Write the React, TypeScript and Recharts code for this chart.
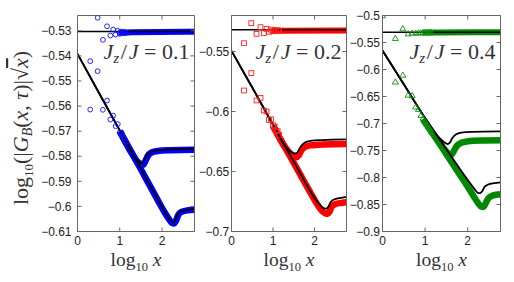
import React from 'react';
import { ComposedChart, Line, Scatter, XAxis, YAxis } from 'recharts';

// ---------- shared ----------
const xDomain: [number, number] = [0, 2.77];
const xTicks = [0, 1, 2];
// sparse marker positions: log10 x for x = 2..14
const markX = [0.301, 0.477, 0.602, 0.699, 0.778, 0.845, 0.903, 0.954, 1.0, 1.041, 1.079, 1.114, 1.146];
const fullX = [0, 2.77];

// ---------- panel 1 (Jz/J = 0.1, blue circles) ----------
const p1Label = '0.1';
const p1Domain: [number, number] = [-0.61, -0.5239];
const p1Ticks = [-0.61, -0.6, -0.59, -0.58, -0.57, -0.56, -0.55, -0.54, -0.53];
const p1ConstY = [-0.5303, -0.5303];
const p1UpperMarks = [-0.5421, -0.5248, -0.5336, -0.5282, -0.5319, -0.5295, -0.5315, -0.53, -0.5312, -0.5303, -0.531, -0.5304, -0.5309];
const p1LowerMarks = [-0.5614, -0.5461, -0.5615, -0.5578, -0.5654, -0.5638, -0.568, -0.5672, -0.5705, -0.5706, -0.5725, -0.573, -0.5742];
const p1AX = [0, 0.5, 1.0, 1.3, 1.42, 1.48, 1.53, 1.58, 1.64, 1.72, 1.85, 2.1, 2.5, 2.77];
const p1AY = [-0.5392, -0.5545, -0.5697, -0.5789, -0.5818, -0.5826, -0.5828, -0.5815, -0.5797, -0.5784, -0.5777, -0.5773, -0.5771, -0.577];
const p1BX = [0, 0.5, 1.0, 1.5, 1.9, 2.05, 2.15, 2.22, 2.27, 2.32, 2.37, 2.45, 2.6, 2.77];
const p1BY = [-0.5392, -0.5545, -0.5697, -0.585, -0.5972, -0.6017, -0.6043, -0.6058, -0.6063, -0.6052, -0.6032, -0.602, -0.6014, -0.601];
const p1BandUX = [0.97, 1.3, 2.77];
const p1BandUY = [-0.5308, -0.5306, -0.5304];
const p1BandAX = [1.0, 1.3, 1.42, 1.5, 1.55, 1.6, 1.66, 1.75, 1.9, 2.2, 2.77];
const p1BandAY = [-0.57, -0.5792, -0.5822, -0.5831, -0.5834, -0.5822, -0.58, -0.5785, -0.5779, -0.5776, -0.5774];
const p1BandBX = [1.0, 1.5, 1.9, 2.05, 2.15, 2.22, 2.28, 2.33, 2.38, 2.46, 2.6, 2.77];
const p1BandBY = [-0.57, -0.5852, -0.5975, -0.602, -0.6047, -0.6063, -0.6068, -0.6058, -0.6036, -0.6022, -0.6016, -0.6013];

// ---------- panel 2 (Jz/J = 0.2, red squares) ----------
const p2Label = '0.2';
const p2Domain: [number, number] = [-0.7, -0.52];
const p2Ticks = [-0.7, -0.65, -0.6, -0.55];
const p2ConstY = [-0.5319, -0.5319];
const p2UpperMarks = [-0.5431, -0.5264, -0.5353, -0.5297, -0.5347, -0.5311, -0.5335, -0.5318, -0.5331, -0.5321, -0.5329, -0.5323, -0.5328];
const p2LowerMarks = [-0.5825, -0.568, -0.5908, -0.5886, -0.5992, -0.6, -0.607, -0.6065, -0.6115, -0.6125, -0.616, -0.6165, -0.6195];
const p2AX = [0, 0.5, 1.0, 1.3, 1.4, 1.48, 1.54, 1.6, 1.66, 1.76, 1.9, 2.2, 2.77];
const p2AY = [-0.5495, -0.58, -0.611, -0.629, -0.6328, -0.6345, -0.635, -0.6335, -0.6295, -0.626, -0.6245, -0.6238, -0.6233];
const p2BX = [0, 0.5, 1.0, 1.5, 1.9, 2.05, 2.15, 2.22, 2.28, 2.33, 2.39, 2.47, 2.6, 2.77];
const p2BY = [-0.5495, -0.58, -0.611, -0.6418, -0.6664, -0.6745, -0.6785, -0.6805, -0.681, -0.6795, -0.6755, -0.6733, -0.6722, -0.6712];
const p2BandUX = [0.97, 2.77];
const p2BandUY = [-0.5328, -0.5324];
const p2BandAX = [1.0, 1.3, 1.42, 1.5, 1.56, 1.62, 1.68, 1.76, 1.9, 2.2, 2.77];
const p2BandAY = [-0.612, -0.6302, -0.6352, -0.6372, -0.6382, -0.6365, -0.6325, -0.6298, -0.6282, -0.6274, -0.627];
const p2BandBX = [1.0, 1.5, 1.9, 2.05, 2.15, 2.24, 2.31, 2.36, 2.42, 2.5, 2.65, 2.77];
const p2BandBY = [-0.612, -0.6428, -0.6675, -0.6765, -0.6815, -0.6845, -0.6855, -0.6835, -0.679, -0.6772, -0.6762, -0.6757];

// ---------- panel 3 (Jz/J = 0.4, green triangles) ----------
const p3Label = '0.4';
const p3Domain: [number, number] = [-0.9, -0.5];
const p3Ticks = [-0.9, -0.85, -0.8, -0.75, -0.7, -0.65, -0.6, -0.55, -0.5];
const p3ConstY = [-0.5309, -0.5309];
const p3FirstMark = -0.5;
const p3UpperMarks = [-0.542, -0.524, -0.5335, -0.532, -0.5322, -0.5315, -0.5318, -0.5312, -0.5316, -0.5311, -0.5314, -0.531, -0.5313];
const p3LowerMarks = [-0.6227, -0.61, -0.647, -0.648, -0.669, -0.6734, -0.6846, -0.6895, -0.696, -0.701, -0.706, -0.71, -0.7145];
const p3AX = [0, 0.5, 1.0, 1.25, 1.38, 1.46, 1.53, 1.58, 1.64, 1.72, 1.85, 2.1, 2.77];
const p3AY = [-0.565, -0.6275, -0.69, -0.719, -0.73, -0.7355, -0.738, -0.7355, -0.727, -0.7205, -0.717, -0.7155, -0.7145];
const p3BX = [0, 0.5, 1.0, 1.5, 1.9, 2.08, 2.17, 2.24, 2.29, 2.34, 2.4, 2.48, 2.62, 2.77];
const p3BY = [-0.565, -0.6275, -0.69, -0.7475, -0.7935, -0.813, -0.8225, -0.8285, -0.829, -0.8255, -0.817, -0.813, -0.8105, -0.809];
const p3BandUX = [0.95, 1.3, 2.77];
const p3BandUY = [-0.5315, -0.5313, -0.531];
const p3BandAX = [0.95, 1.2, 1.4, 1.5, 1.57, 1.63, 1.68, 1.75, 1.85, 2.0, 2.3, 2.77];
const p3BandAY = [-0.692, -0.7205, -0.742, -0.752, -0.7575, -0.757, -0.75, -0.741, -0.7355, -0.733, -0.7315, -0.731];
const p3BandBX = [0.95, 1.2, 1.5, 1.8, 2.0, 2.15, 2.25, 2.32, 2.37, 2.42, 2.48, 2.58, 2.77];
const p3BandBY = [-0.692, -0.7205, -0.757, -0.793, -0.817, -0.836, -0.848, -0.854, -0.8545, -0.848, -0.839, -0.8335, -0.831];

// ---------- helpers ----------
type Pt = { x: number; y: number };
const zip = (xs: number[], ys: number[]): Pt[] => xs.map((x, i) => ({ x, y: ys[i] }));

const FRAME = '#666';
const SERIF = '"Liberation Serif", "Times New Roman", serif';
const SANS = '"Liberation Sans", Arial, sans-serif';

const fmt = (v: number) => {
  const r = +v.toFixed(3);
  return r < 0 ? '\u2212' + String(Math.abs(r)) : String(r);
};

const Circle = (p: any) => <circle cx={p.cx} cy={p.cy} r={2.4} fill="none" stroke="#1010ff" strokeWidth={0.9} />;
const Square = (p: any) => <rect x={p.cx - 2.4} y={p.cy - 2.4} width={4.8} height={4.8} fill="none" stroke="#ff2020" strokeWidth={0.9} />;
const Triangle = (p: any) => (
  <polygon
    points={`${p.cx},${p.cy - 2.9} ${p.cx - 3},${p.cy + 2.3} ${p.cx + 3},${p.cy + 2.3}`}
    fill="none"
    stroke="#109010"
    strokeWidth={0.9}
  />
);
const HiddenTick = (p: any) => <text x={p.x} y={p.y} fontSize={1} fill="none"></text>;

const XTitle = (props: any) => {
  const vb = props.viewBox || {};
  return (
    <text x={vb.x + vb.width / 2} y={266} textAnchor="middle" fontFamily={SERIF} fontSize={19.5} fill="#333">
      log
      <tspan fontSize={12.5} dy={5}>10</tspan>
      <tspan dy={-5} fontStyle="italic">{'\u00a0x'}</tspan>
    </text>
  );
};

const makeAnnot = (val: string) => (props: any) => {
  const vb = props.viewBox || {};
  return (
    <text x={vb.x + vb.width - 5} y={59} textAnchor="end" fontFamily={SERIF} fontSize={22} fill="#333">
      <tspan fontStyle="italic">J</tspan>
      <tspan fontStyle="italic" fontSize={15} dy={4}>z</tspan>
      <tspan dy={-4}>{'\u200a/\u200a'}</tspan>
      <tspan fontStyle="italic">J</tspan>
      <tspan>{'\u00a0=\u00a0' + val}</tspan>
    </text>
  );
};

const YTitle = () => (
  <text
    x={0}
    y={0}
    transform="translate(28,128) rotate(-90)"
    textAnchor="middle"
    fontFamily={SERIF}
    fontSize={22}
    fill="#333"
  >
    log
    <tspan fontSize={13} dy={5}>10</tspan>
    <tspan dy={-5}>(|</tspan>
    <tspan fontStyle="italic">G</tspan>
    <tspan fontStyle="italic" fontSize={14} dy={4}>B</tspan>
    <tspan dy={-4}>(</tspan>
    <tspan fontStyle="italic">x</tspan>
    <tspan>, </tspan>
    <tspan fontStyle="italic">τ</tspan>
    <tspan>)|√</tspan>
    <tspan fontStyle="italic" textDecoration="overline">x</tspan>
    <tspan>)</tspan>
  </text>
);

type PanelCfg = {
  left: number;
  width: number;
  yAxisWidth: number;
  marginRight: number;
  tickMargin: number;
  domain: [number, number];
  ticks: number[];
  label: string;
  color: string;
  shape: any;
  constLine: Pt[];
  curveA: Pt[];
  curveB: Pt[];
  bandU: Pt[];
  bandA: Pt[];
  bandB: Pt[];
  upper: Pt[];
  lower: Pt[];
  yTitle?: boolean;
};

const Panel = (c: PanelCfg) => (
  <div style={{ position: 'absolute', left: c.left, top: 0, width: c.width, height: 282 }}>
    <ComposedChart width={c.width} height={282} margin={{ top: 14.5, right: c.marginRight - 1, bottom: 20.5, left: 0 }}>
      <XAxis
        type="number"
        dataKey="x"
        domain={xDomain}
        ticks={xTicks}
        allowDataOverflow
        height={30}
        tickSize={-4}
        tickMargin={9}
        stroke={FRAME}
        tick={{ fill: '#222', fontSize: 12, fontFamily: SANS }}
        tickFormatter={fmt}
        label={{ content: XTitle }}
      />
      <XAxis
        xAxisId="t"
        orientation="top"
        type="number"
        dataKey="x"
        domain={xDomain}
        ticks={xTicks}
        allowDataOverflow
        height={1}
        tickSize={-4}
        tickMargin={0}
        stroke={FRAME}
        tick={HiddenTick}
        label={{ content: makeAnnot(c.label) }}
      />
      <YAxis
        type="number"
        dataKey="y"
        domain={c.domain}
        ticks={c.ticks}
        allowDataOverflow
        width={c.yAxisWidth}
        tickSize={-4}
        tickMargin={c.tickMargin}
        stroke={FRAME}
        tick={{ fill: '#222', fontSize: 12, fontFamily: SANS }}
        tickFormatter={fmt}
        interval={0}
        label={c.yTitle ? { content: YTitle } : undefined}
      />
      <YAxis
        yAxisId="r"
        orientation="right"
        type="number"
        dataKey="y"
        domain={c.domain}
        ticks={c.ticks}
        allowDataOverflow
        width={1}
        tickSize={-4}
        tickMargin={0}
        stroke={FRAME}
        tick={HiddenTick}
        interval={0}
      />
      <Line data={c.bandU} dataKey="y" type="monotone" stroke={c.color} strokeWidth={6} dot={false} activeDot={false} isAnimationActive={false} />
      <Line data={c.bandA} dataKey="y" type="monotone" stroke={c.color} strokeWidth={6.5} dot={false} activeDot={false} isAnimationActive={false} />
      <Line data={c.bandB} dataKey="y" type="monotone" stroke={c.color} strokeWidth={6.5} dot={false} activeDot={false} isAnimationActive={false} />
      <Scatter data={c.upper} dataKey="y" shape={c.shape} isAnimationActive={false} />
      <Scatter data={c.lower} dataKey="y" shape={c.shape} isAnimationActive={false} />
      <Line data={c.constLine} dataKey="y" type="linear" stroke="#000" strokeWidth={1.6} dot={false} activeDot={false} isAnimationActive={false} />
      <Line data={c.curveA} dataKey="y" type="monotone" stroke="#000" strokeWidth={1.8} dot={false} activeDot={false} isAnimationActive={false} />
      <Line data={c.curveB} dataKey="y" type="monotone" stroke="#000" strokeWidth={1.8} dot={false} activeDot={false} isAnimationActive={false} />
    </ComposedChart>
  </div>
);

export default function App() {
  return (
    <div style={{ position: 'fixed', left: 0, top: 0, width: 514, height: 282, background: '#fff', overflow: 'hidden' }}>
      <Panel
        left={0}
        width={200}
        yAxisWidth={77.5}
        marginRight={5.5}
        tickMargin={10}
        domain={p1Domain}
        ticks={p1Ticks}
        label={p1Label}
        color="#0000ff"
        shape={Circle}
        constLine={zip(fullX, p1ConstY)}
        curveA={zip(p1AX, p1AY)}
        curveB={zip(p1BX, p1BY)}
        bandU={zip(p1BandUX, p1BandUY)}
        bandA={zip(p1BandAX, p1BandAY)}
        bandB={zip(p1BandBX, p1BandBY)}
        upper={zip(markX, p1UpperMarks)}
        lower={zip(markX, p1LowerMarks)}
        yTitle
      />
      <Panel
        left={170}
        width={180}
        yAxisWidth={61.5}
        marginRight={3.5}
        tickMargin={6.2}
        domain={p2Domain}
        ticks={p2Ticks}
        label={p2Label}
        color="#ff0000"
        shape={Square}
        constLine={zip(fullX, p2ConstY)}
        curveA={zip(p2AX, p2AY)}
        curveB={zip(p2BX, p2BY)}
        bandU={zip(p2BandUX, p2BandUY)}
        bandA={zip(p2BandAX, p2BandAY)}
        bandB={zip(p2BandBX, p2BandBY)}
        upper={zip(markX, p2UpperMarks)}
        lower={zip(markX, p2LowerMarks)}
      />
      <Panel
        left={330}
        width={184}
        yAxisWidth={52.5}
        marginRight={13.5}
        tickMargin={6.5}
        domain={p3Domain}
        ticks={p3Ticks}
        label={p3Label}
        color="#008800"
        shape={Triangle}
        constLine={zip(fullX, p3ConstY)}
        curveA={zip(p3AX, p3AY)}
        curveB={zip(p3BX, p3BY)}
        bandU={zip(p3BandUX, p3BandUY)}
        bandA={zip(p3BandAX, p3BandAY)}
        bandB={zip(p3BandBX, p3BandBY)}
        upper={[{ x: 0, y: p3FirstMark }, ...zip(markX, p3UpperMarks)]}
        lower={zip(markX, p3LowerMarks)}
      />
    </div>
  );
}
